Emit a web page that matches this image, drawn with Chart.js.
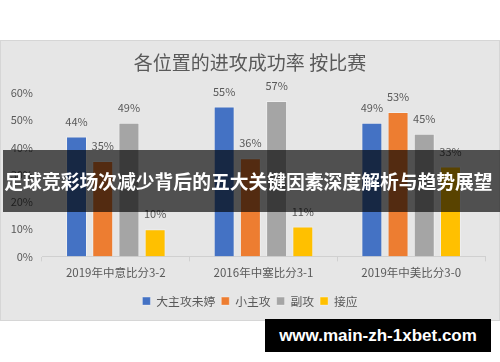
<!DOCTYPE html>
<html>
<head>
<meta charset="utf-8">
<script src="https://cdn.jsdelivr.net/npm/chart.js@4"></script>
<style>
  html, body { margin: 0; padding: 0; background: #fff; }
  body { width: 500px; height: 362px; position: relative; overflow: hidden; }
  #panel {
    position: absolute; left: 0; top: 40px; width: 498px; height: 279px;
    background: #e6e6e6; border: 1px solid #d6d6d6;
  }
  #banner {
    position: absolute; left: 3px; right: 0; top: 150px; height: 62px;
    padding-right: 6px;
    background: rgba(0,0,0,0.65); color: #fff;
    font: bold 18.8px "Noto Sans CJK SC", sans-serif;
    line-height: 62px; text-align: center; white-space: nowrap;
  }
  #mark {
    position: absolute; left: 265px; top: 319px; width: 226px; height: 33px;
    background: #000; color: #fff;
    font: bold 17px "Liberation Sans", sans-serif;
    line-height: 33px; text-align: center; white-space: nowrap;
  }
</style>
</head>
<body>
<div id="panel"><canvas id="rateChart" width="498" height="279"></canvas></div>
<div id="banner">足球竞彩场次减少背后的五大关键因素深度解析与趋势展望</div>
<div id="mark">www.main-zh-1xbet.com</div>
<script>
// 比赛 / 位置 / 成功率
const matches = ["2019年中意比分3-2", "2016年中塞比分3-1", "2019年中美比分3-0"];
const positions = ["大主攻未婷", "小主攻", "副攻", "接应"];
const mainAttack = [0.44, 0.55, 0.49];
const smallAttack = [0.35, 0.36, 0.53];
const middleBlock = [0.49, 0.57, 0.45];
const opposite = [0.10, 0.11, 0.33];
const yTicks = [0, 0.1, 0.2, 0.3, 0.4, 0.5, 0.6];

const colors = ["#4472C4", "#ED7D31", "#A5A5A5", "#FFC000"];
const fontFamily = '"Noto Sans CJK SC", "Noto Sans", sans-serif';
const textGray = "#595959";

// 柱子上方的百分比标签
const valueLabels = {
  id: "valueLabels",
  afterDatasetsDraw(chart) {
    const ctx = chart.ctx;
    ctx.save();
    ctx.font = "11px " + fontFamily;
    ctx.fillStyle = textGray;
    ctx.textAlign = "center";
    ctx.textBaseline = "middle";
    chart.data.datasets.forEach((ds, i) => {
      chart.getDatasetMeta(i).data.forEach((bar, j) => {
        ctx.fillText(Math.round(ds.data[j] * 100) + "%", bar.x, bar.y - 15);
      });
    });
    ctx.restore();
  }
};

const seriesData = [mainAttack, smallAttack, middleBlock, opposite];

new Chart(document.getElementById("rateChart"), {
  type: "bar",
  data: {
    labels: matches,
    datasets: positions.map((name, i) => ({
      label: name,
      data: seriesData[i],
      backgroundColor: colors[i],
      borderColor: "rgba(255,255,255,0.35)",
      borderWidth: 1,
      categoryPercentage: 0.71,
      barPercentage: 0.8
    }))
  },
  options: {
    responsive: false,
    animation: false,
    layout: { padding: { left: 0, right: 0, top: 0, bottom: 3 } },
    plugins: {
      title: {
        display: true,
        text: "各位置的进攻成功率 按比赛",
        color: textGray,
        font: { family: fontFamily, size: 19, weight: "normal" },
        padding: { top: 10, bottom: 19 }
      },
      legend: {
        position: "bottom",
        labels: {
          boxWidth: 8, boxHeight: 8, padding: 6,
          color: textGray,
          font: { family: fontFamily, size: 11.8 }
        }
      },
      tooltip: { enabled: false }
    },
    scales: {
      x: {
        afterFit: s => { s.height += 6; },
        grid: { drawOnChartArea: false, drawTicks: true, tickLength: 5, color: "#d0d0d0" },
        border: { display: true, color: "#d0d0d0" },
        ticks: { color: textGray, font: { family: fontFamily, size: 11.5 }, padding: 4 }
      },
      y: {
        min: 0, max: 0.6,
        afterFit: s => { s.width = 41; },
        afterBuildTicks: s => { s.ticks = yTicks.map(v => ({ value: v })); },
        grid: { display: false, drawTicks: false },
        border: { display: false },
        ticks: {
          color: textGray, padding: 9,
          font: { family: fontFamily, size: 11 },
          callback: v => Math.round(v * 100) + "%"
        }
      },
      // 右侧留白用的空轴
      yRight: {
        type: "linear",
        position: "right",
        min: 0, max: 0.6,
        afterFit: s => { s.width = 14; },
        grid: { display: false, drawTicks: false },
        border: { display: false },
        ticks: { display: false }
      }
    }
  },
  plugins: [valueLabels]
});
</script>
</body>
</html>
